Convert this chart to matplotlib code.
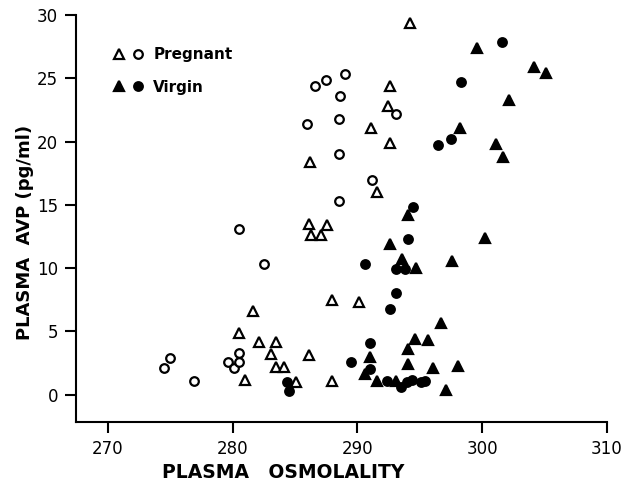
import matplotlib
matplotlib.use("Agg")
import matplotlib.pyplot as plt
from matplotlib.legend_handler import HandlerTuple

# pregnant, open circles
preg_circ_x = [274.5, 275.0, 276.9, 279.6, 280.5, 280.1, 280.5, 280.5, 282.5, 288.5,
               291.2, 288.5, 289.0, 287.5, 286.6, 288.6, 286.0, 288.5, 293.1]
preg_circ_y = [2.1, 2.9, 1.1, 2.6, 3.3, 2.1, 2.6, 13.1, 10.3, 19.0,
               17.0, 15.3, 25.3, 24.9, 24.4, 23.6, 21.4, 21.8, 22.2]

# pregnant, open triangles
preg_tri_x = [281.6, 280.5, 282.1, 283.5, 283.1, 283.5, 284.1, 281.0, 285.1, 286.1,
              288.0, 286.1, 287.6, 286.3, 287.1, 288.0, 290.1, 286.2, 291.6, 292.6,
              292.5, 291.1, 292.6, 294.2]
preg_tri_y = [6.6, 4.9, 4.2, 4.2, 3.2, 2.2, 2.2, 1.2, 1.0, 3.1,
              1.1, 13.5, 13.4, 12.6, 12.6, 7.5, 7.3, 18.4, 16.0, 24.4,
              22.8, 21.1, 19.9, 29.4]

# virgin, filled circles
virg_circ_x = [284.4, 284.5, 292.6, 291.0, 289.5, 291.0, 292.4, 293.5, 294.0, 294.4,
               295.1, 295.4, 294.5, 294.1, 290.6, 293.1, 293.8, 293.1, 301.6, 298.3,
               297.5, 296.5]
virg_circ_y = [1.0, 0.3, 6.8, 4.1, 2.6, 2.0, 1.1, 0.6, 1.0, 1.2,
               1.0, 1.1, 14.8, 12.3, 10.3, 9.9, 9.9, 8.0, 27.9, 24.7,
               20.2, 19.7]

# virgin, filled triangles
virg_tri_x = [296.7, 294.6, 295.7, 294.1, 291.0, 294.1, 296.1, 298.1, 290.6, 291.6,
              293.1, 297.1, 294.1, 292.6, 293.6, 294.7, 297.6, 299.6, 304.2, 305.1,
              302.2, 298.2, 301.1, 301.7, 300.2]
virg_tri_y = [5.7, 4.4, 4.3, 3.6, 3.0, 2.4, 2.1, 2.3, 1.6, 1.1,
              1.1, 0.4, 14.2, 11.9, 10.7, 10.0, 10.6, 27.4, 25.9, 25.4,
              23.3, 21.1, 19.8, 18.8, 12.4]

xticks = [270, 280, 290, 300, 310]
yticks = [0, 5, 10, 15, 20, 25, 30]

fig = plt.figure(figsize=(6.23, 4.83), dpi=100)
ax = fig.add_axes([0.122, 0.127, 0.852, 0.842])

tri = dict(marker="^", markersize=7.5, linestyle="none", color="black", markeredgewidth=1.6)
circ = dict(marker="o", markersize=6.2, linestyle="none", color="black", markeredgewidth=1.6)

h1, = ax.plot(preg_tri_x, preg_tri_y, markerfacecolor="white", **tri)
h2, = ax.plot(preg_circ_x, preg_circ_y, markerfacecolor="white", **circ)
h3, = ax.plot(virg_tri_x, virg_tri_y, markerfacecolor="black", **tri)
h4, = ax.plot(virg_circ_x, virg_circ_y, markerfacecolor="black", **circ)

ax.set_xlim(267.45, 310)
ax.set_ylim(-2.13, 30)
ax.set_xticks(xticks)
ax.set_yticks(yticks)

for s in ["top", "right"]:
    ax.spines[s].set_visible(False)
for s in ["left", "bottom"]:
    ax.spines[s].set_linewidth(1.5)
ax.tick_params(direction="out", length=8, width=1.5, labelsize=12, pad=5)

ax.set_xlabel("PLASMA   OSMOLALITY", fontsize=13.5, fontweight="bold")
ax.xaxis.set_label_coords(0.39, -0.102)
ax.set_ylabel("PLASMA  AVP (pg/ml)", fontsize=13, fontweight="bold")
ax.yaxis.set_label_coords(-0.08, 0.466)

ax.legend([(h1, h2), (h3, h4)], ["Pregnant", "Virgin"],
          handler_map={tuple: HandlerTuple(ndivide=None, pad=0.5)},
          frameon=False, loc="upper left",
          bbox_to_anchor=(0.045, 0.955), handlelength=2.0, handletextpad=0.6,
          labelspacing=1.15, prop={"weight": "bold", "size": 11})

fig.savefig("out.png", dpi=100)
